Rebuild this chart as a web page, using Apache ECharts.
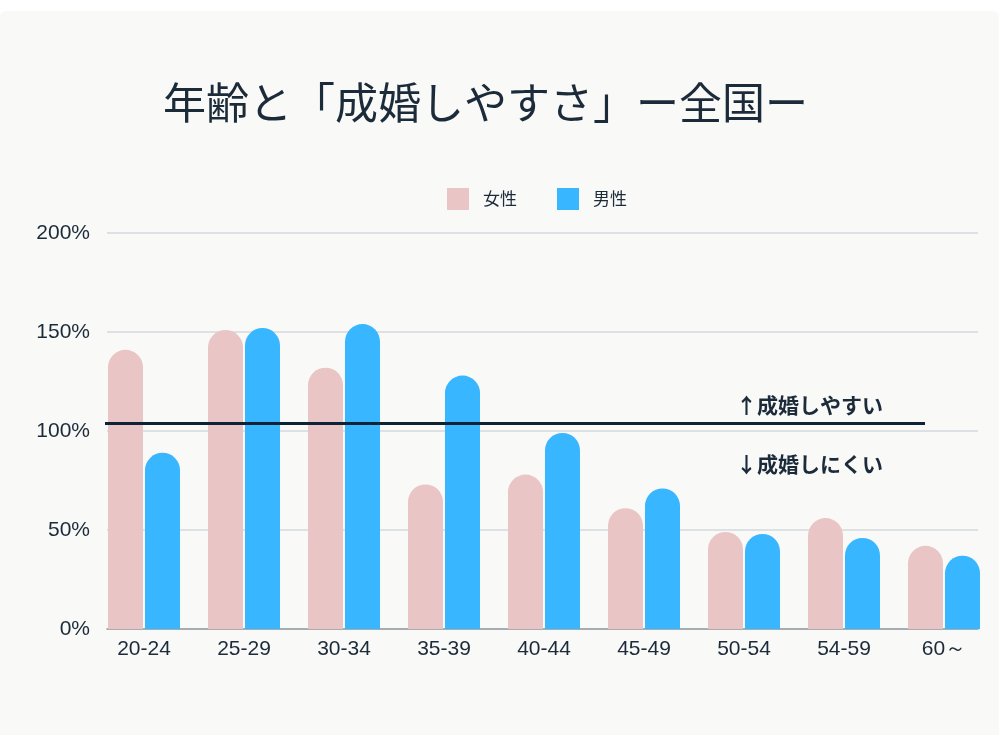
<!DOCTYPE html>
<html>
<head>
<meta charset="utf-8">
<script src="https://cdn.jsdelivr.net/npm/echarts@6/dist/echarts.min.js"></script>
<style>
  html, body { margin: 0; padding: 0; background: #ffffff; }
  #card { position: absolute; left: 0; top: 11px; width: 999px; height: 724px; background: #f9f9f7; border-radius: 6px 6px 0 0; }
  #chart { position: absolute; left: 0; top: 0; width: 1006px; height: 735px; }
</style>
</head>
<body>
<div id="card"></div>
<div id="chart"></div>
<script>
const titleText = '年齢と「成婚しやすさ」ー全国ー';
const categories = ['20-24', '25-29', '30-34', '35-39', '40-44', '45-49', '50-54', '54-59', '60～'];
const female = [141, 151, 132, 73, 78, 61, 49, 56, 42];
const male = [89, 152, 154, 128, 99, 71, 48, 46, 37];
const seriesNames = ['女性', '男性'];
const threshold = 104;
const aboveText = '↑成婚しやすい';
const belowText = '↓成婚しにくい';
const yTicks = { min: 0, max: 200, interval: 50 };

const textColor = '#1c2b3a';
const latin = '"Liberation Sans", Arial, sans-serif';
const cjk = '"Noto Sans CJK JP", sans-serif';

const chart = echarts.init(document.getElementById('chart'), null, { renderer: 'canvas' });
const gridTop = 233, gridBottom = 106;
chart.setOption({
  backgroundColor: 'transparent',
  animation: false,
  title: {
    text: titleText, left: 158, top: 76,
    textStyle: { fontFamily: cjk, fontSize: 43, fontWeight: 'normal', color: textColor }
  },
  legend: {
    data: seriesNames, left: 442, top: 183,
    itemWidth: 22, itemHeight: 22, itemGap: 40, icon: 'rect',
    textStyle: { fontFamily: cjk, fontSize: 17, color: textColor, padding: [0, 0, 0, 9] }
  },
  grid: [
    { left: 107, right: 28, top: gridTop, bottom: gridBottom },
    { left: 94, width: 900, top: gridTop, bottom: gridBottom },
    { left: 105, right: 81, top: gridTop, bottom: gridBottom }
  ],
  xAxis: [
    { gridIndex: 0, type: 'value', min: 0, max: 1, axisLabel: { show: false }, axisTick: { show: false }, splitLine: { show: false },
      axisLine: { show: true, onZero: false, lineStyle: { color: '#939aa1', width: 1.5 } } },
    { gridIndex: 1, type: 'category', data: categories, axisLine: { show: false }, axisTick: { show: false },
      axisLabel: { fontFamily: latin, fontSize: 21, color: textColor, margin: 10, interval: 0 } },
    { gridIndex: 2, type: 'value', min: 0, max: 1, show: false }
  ],
  yAxis: [
    { gridIndex: 0, type: 'value', min: yTicks.min, max: yTicks.max, interval: yTicks.interval,
      axisLabel: { formatter: '{value}%', fontFamily: latin, fontSize: 21, color: textColor, margin: 17 },
      axisLine: { show: false }, axisTick: { show: false },
      splitLine: { lineStyle: { color: '#d5d9dc', width: 1.5 } } },
    { gridIndex: 1, type: 'value', min: yTicks.min, max: yTicks.max, show: false },
    { gridIndex: 2, type: 'value', min: yTicks.min, max: yTicks.max, show: false }
  ],
  series: [
    { name: seriesNames[0], type: 'bar', xAxisIndex: 1, yAxisIndex: 1, data: female,
      barWidth: 35, barGap: '5.714%',
      itemStyle: { color: '#e9c6c5', borderRadius: [18, 18, 0, 0] } },
    { name: seriesNames[1], type: 'bar', xAxisIndex: 1, yAxisIndex: 1, data: male,
      barWidth: 35, barGap: '5.714%',
      itemStyle: { color: '#38b6ff', borderRadius: [18, 18, 0, 0] } },
    { name: 'threshold', type: 'line', xAxisIndex: 2, yAxisIndex: 2, data: [],
      markLine: { silent: true, symbol: 'none', label: { show: false },
        lineStyle: { color: '#0e2436', width: 3, type: 'solid' },
        data: [{ yAxis: threshold }] } }
  ],
  graphic: [
    { type: 'text', left: 736, top: 395, style: { text: aboveText, font: 'bold 21px ' + cjk, fill: textColor } },
    { type: 'text', left: 736, top: 454, style: { text: belowText, font: 'bold 21px ' + cjk, fill: textColor } }
  ]
});
</script>
</body>
</html>
